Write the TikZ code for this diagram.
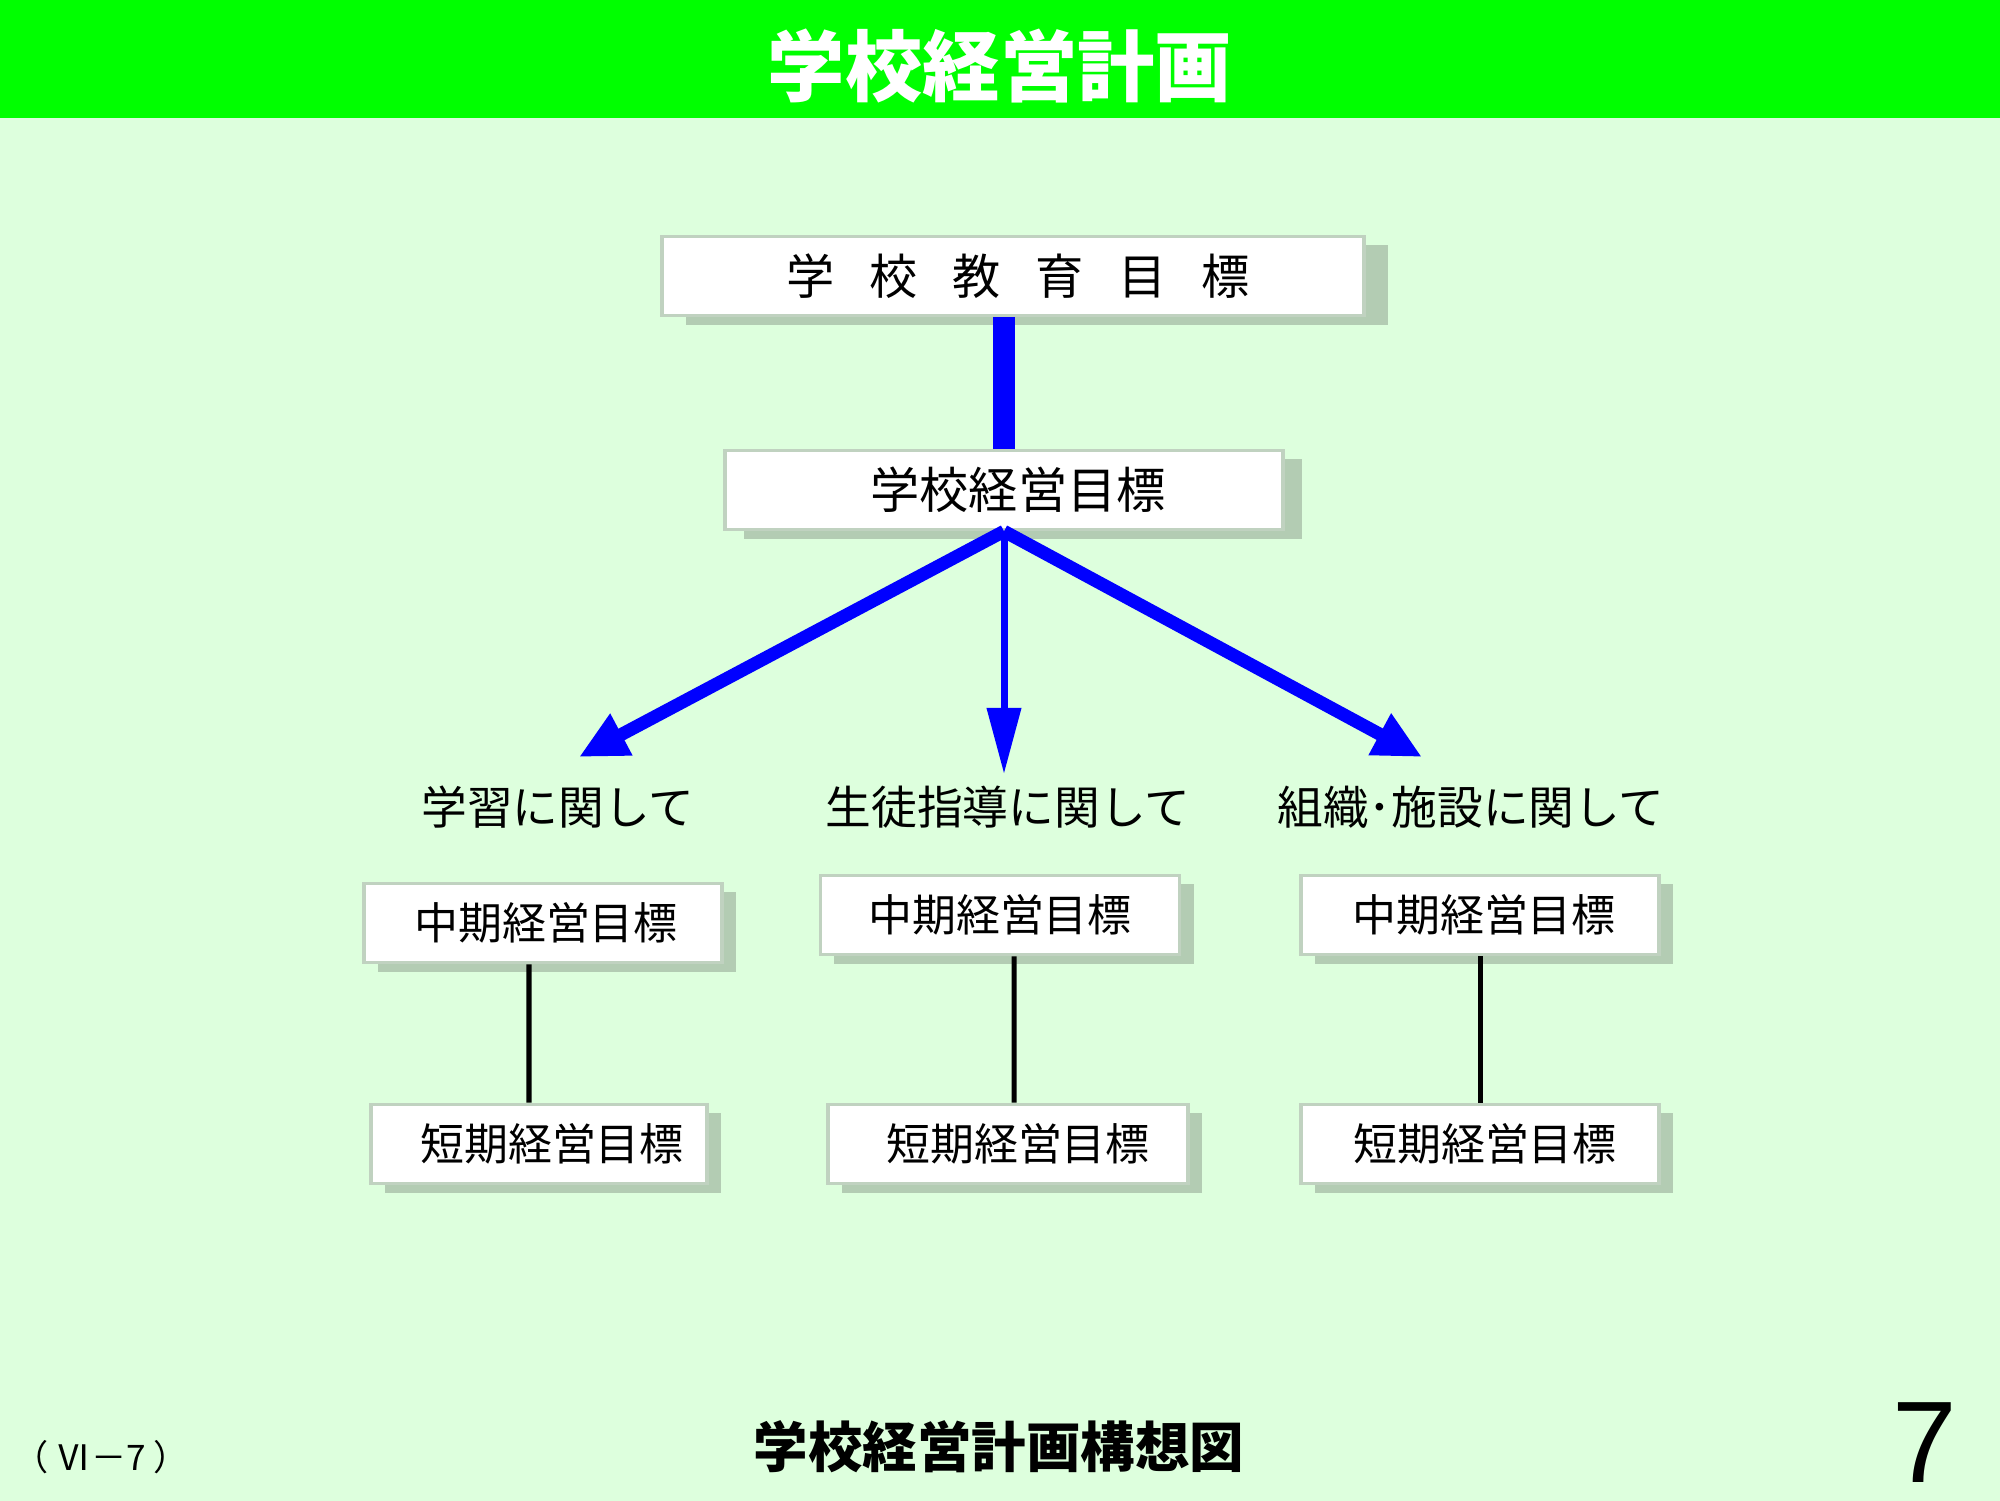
\documentclass[tikz,border=0pt]{standalone}
\usepackage{fontspec}
\setmainfont{Noto Sans CJK JP}
\setsansfont{Liberation Sans}
\usetikzlibrary{arrows.meta,shadows}
\definecolor{bggreen}{HTML}{DDFFDD}
\definecolor{bargreen}{HTML}{00FF00}
\definecolor{boxline}{HTML}{C0D2C0}
\definecolor{shade}{HTML}{B3CCB3}
\definecolor{arrowblue}{HTML}{0000FF}
\begin{document}
\begin{tikzpicture}[x=0.01cm, y=-0.01cm,
  goal/.style={draw=boxline, line width=1pt, fill=white, inner sep=0pt,
    minimum height=0.79cm,
    drop shadow={shadow xshift=#1, shadow yshift=-0.09cm, fill=shade, opacity=1}},
  goal/.default=0.14cm,
  jp/.style={font=\fontsize{#1}{#1}\selectfont},
  side arrow/.style={arrowblue, line width=0.13cm,
    -{Triangle[length=0.48cm, width=0.44cm]}},
  link/.style={black, line width=0.05cm}]
  % Background and bounds
  \fill[bggreen] (0,0) rectangle (2000,1501);
  \useasboundingbox (0,0) rectangle (2000,1501);
  % Title bar
  \fill[bargreen] (0,0) rectangle (2000,118);
  \node[white, font=\fontsize{22}{22}\selectfont\bfseries] (title) at (1000,66) {学校経営計画};
  % Top goals
  \node[goal=0.24cm, minimum width=7.02cm, jp=13.7] (edu) at (1013,276)
    {\kern.1cm 学\kern.72em 校\kern.72em 教\kern.72em 育\kern.72em 目\kern.72em 標};
  \node[goal=0.19cm, minimum width=5.58cm, jp=14] (mgoal) at (1004,490) {\kern.28cm 学校経営目標};
  \draw[arrowblue, line width=0.22cm] (edu.south -| mgoal) -- (mgoal.north);
  % Branches
  \coordinate (tipL) at (579,757);
  \coordinate (tipM) at (1004,774);
  \coordinate (tipR) at (1422,757);
  \draw[side arrow] (mgoal.south) -- (tipL);
  \draw[side arrow] (mgoal.south) -- (tipR);
  \draw[arrowblue, line width=0.07cm, -{Triangle[length=0.66cm, width=0.33cm]}]
    (mgoal.south) -- (tipM);
  \node[jp=13] (lab1) at (558,807) {学習に関して};
  \node[jp=13] (lab2) at (1008,807) {生徒指導に関して};
  \node[jp=13] (lab3) at (1471,807) {組織･施設に関して};
  % Mid and short term
  \foreach \n/\x/\y/\w/\k in {1/543/923/3.58/0.06, 2/1000/915/3.59/0, 3/1480/915/3.58/0.08}
    \node[goal, minimum width=\w cm, jp=12.5] (mid\n) at (\x,\y) {\kern\k cm 中期経営目標};
  \foreach \n/\x/\w/\k in {1/539/3.36/0.26, 2/1008/3.60/0.2, 3/1480/3.58/0.1}
    \node[goal, minimum width=\w cm, jp=12.5] (short\n) at (\x,1144) {\kern\k cm 短期経営目標};
  \foreach \n/\a/\b in {1/-0.14/-0.10, 2/0.14/0.06, 3/0/0}
    \draw[link] ([xshift=\a cm]mid\n.south) -- ([xshift=\b cm]short\n.north);
  % Footer
  \node[jp=10] (code) at (101,1457) {（ Ⅵ－7 ）};
  \node[font=\fontsize{15.5}{15.5}\selectfont\bfseries] (caption) at (999,1447) {学校経営計画構想図};
  \node[font=\sffamily\fontsize{33}{33}\selectfont] (pageno) at (1925,1443) {7};
\end{tikzpicture}
\end{document}
